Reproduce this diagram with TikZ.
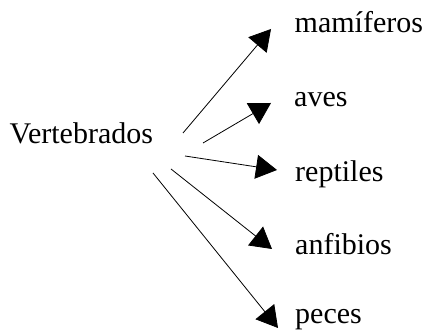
\documentclass[tikz,border=0pt]{standalone}
\usepackage{fontspec}
\setmainfont{Liberation Serif}
\newfontfamily\labelfont{Liberation Serif}
\usetikzlibrary{arrows.meta,positioning}

\begin{document}
\begin{tikzpicture}[x=1pt, y=1pt, every node/.style={inner sep=0pt, anchor=base west, font=\labelfont\fontsize{30}{36}\selectfont}]
\useasboundingbox (0,0) rectangle (433,336);
\node (vert) at (9.5,192) {Vertebrados};
\node (mam) at (294.5,303) {mamíferos};
\node (aves) at (294,229) {aves};
\node (rep) at (295,154) {reptiles};
\node (anf) at (295,81) {anfibios};
\node (pec) at (295,12) {peces};
\coordinate (s1) at (183,203); \coordinate (t1) at (271,307);
\coordinate (s2) at (203,193); \coordinate (t2) at (271,233);
\coordinate (s3) at (185,180); \coordinate (t3) at (277,166);
\coordinate (s4) at (171,167); \coordinate (t4) at (272,87);
\coordinate (s5) at (153,163); \coordinate (t5) at (278,8);
\draw[-{Triangle[length=21pt, width=24pt]}, line width=0.8pt] (s1) -- (t1);
\draw[-{Triangle[length=21pt, width=24pt]}, line width=0.8pt] (s2) -- (t2);
\draw[-{Triangle[length=21pt, width=24pt]}, line width=0.8pt] (s3) -- (t3);
\draw[-{Triangle[length=21pt, width=24pt]}, line width=0.8pt] (s4) -- (t4);
\draw[-{Triangle[length=21pt, width=24pt]}, line width=0.8pt] (s5) -- (t5);
\end{tikzpicture}
\end{document}
